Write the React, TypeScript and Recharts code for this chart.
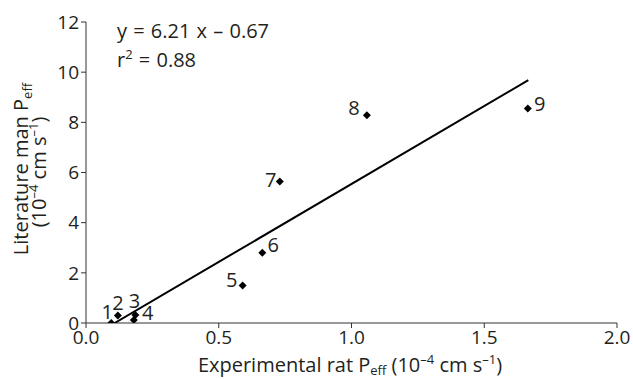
import React from "react";
import {
  Customized,
  Scatter,
  ScatterChart,
  XAxis,
  YAxis,
} from "recharts";

// drugs 1-9: experimental rat Peff vs literature human Peff
const drugIds = [1, 2, 3, 4, 5, 6, 7, 8, 9];
const ratPeff = [0.095, 0.12, 0.186, 0.18, 0.59, 0.664, 0.73, 1.058, 1.664];
const manPeff = [0.0, 0.3, 0.32, 0.12, 1.5, 2.8, 5.64, 8.28, 8.55];

// regression line end points
const fitX = [0.108, 1.666];
const fitY = [0.0, 9.68];

const xTicks = [0, 0.5, 1.0, 1.5, 2.0];
const yTicks = [0, 2, 4, 6, 8, 10, 12];

const points = drugIds.map((id, i) => ({ id, x: ratPeff[i], y: manPeff[i] }));
const fitLine = fitX.map((x, i) => ({ x, y: fitY[i] }));

// centre of each number relative to its marker
const labelOffset: Record<number, [number, number]> = {
  1: [-4, -12],
  2: [0, -13],
  3: [-1, -14],
  4: [14, -7],
  5: [-11, -6],
  6: [11, -8],
  7: [-9, -2],
  8: [-13, -8],
  9: [12, -5],
};

const FONT = "'Open Sans', 'Noto Sans', sans-serif";
const INK = "#231f20";

const Diamond = (props: any) => {
  const { cx, cy, payload } = props;
  if (cx == null || cy == null) return null;
  const r = 4;
  const [dx, dy] = labelOffset[payload.id] || [6, -6];
  return (
    <g>
      <path
        d={`M${cx},${cy - r} L${cx + r},${cy} L${cx},${cy + r} L${cx - r},${cy} Z`}
        fill="#000"
      />
      <text
        x={cx + dx}
        y={cy + dy}
        textAnchor="middle"
        dominantBaseline="central"
        fontSize={20}
        fontFamily={FONT}
        fill={INK}
      >
        {payload.id}
      </text>
    </g>
  );
};

const Annotations = () => (
  <g fontFamily={FONT} fill={INK}>
    <text x={117} y={38} fontSize={20} wordSpacing={1}>
      y = 6.21 x – 0.67
    </text>
    <text x={117} y={67} fontSize={20} wordSpacing={1}>
      r<tspan dy={-8} fontSize={13}>2</tspan>
      <tspan dy={8}> = 0.88</tspan>
    </text>
    <text x={350} y={372} fontSize={20} textAnchor="middle">
      Experimental rat P<tspan dy={3} fontSize={13}>eff</tspan>
      <tspan dy={-3}> (10</tspan>
      <tspan dy={-8} fontSize={13}>–4</tspan>
      <tspan dy={8}> cm s</tspan>
      <tspan dy={-8} fontSize={13}>–1</tspan>
      <tspan dy={8}>)</tspan>
    </text>
    <g transform="translate(28,169) rotate(-90)">
      <text x={0} y={0} fontSize={20} textAnchor="middle">
        Literature man P<tspan dy={4} fontSize={13}>eff</tspan>
      </text>
      <text x={-3} y={18} fontSize={20} textAnchor="middle">
        (10<tspan dy={-8} fontSize={13}>–4</tspan>
        <tspan dy={8}> cm s</tspan>
        <tspan dy={-8} fontSize={13}>–1</tspan>
        <tspan dy={8}>)</tspan>
      </text>
    </g>
  </g>
);

export default function App() {
  return (
    <div style={{ position: "absolute", left: 0, top: 0, background: "#fff" }}>
      <ScatterChart
        width={633}
        height={379}
        margin={{ top: 22, right: 16, left: 0, bottom: 0 }}
      >
        <XAxis
          type="number"
          dataKey="x"
          domain={[0, 2]}
          ticks={xTicks}
          tickFormatter={(v: number) => v.toFixed(1)}
          tick={{ fill: INK, fontSize: 19, fontFamily: FONT }}
          tickSize={5}
          tickMargin={3}
          height={56}
          stroke="#333"
          allowDataOverflow
        />
        <YAxis
          type="number"
          dataKey="y"
          domain={[0, 12]}
          ticks={yTicks}
          tick={{ fill: INK, fontSize: 19, fontFamily: FONT }}
          tickSize={5}
          tickMargin={2}
          width={86}
          stroke="#333"
          allowDataOverflow
        />
        <Scatter
          data={fitLine}
          line={{ stroke: "#000", strokeWidth: 2 }}
          shape={() => null}
          isAnimationActive={false}
        />
        <Scatter data={points} shape={Diamond} isAnimationActive={false} />
        <Customized component={Annotations} />
      </ScatterChart>
    </div>
  );
}
